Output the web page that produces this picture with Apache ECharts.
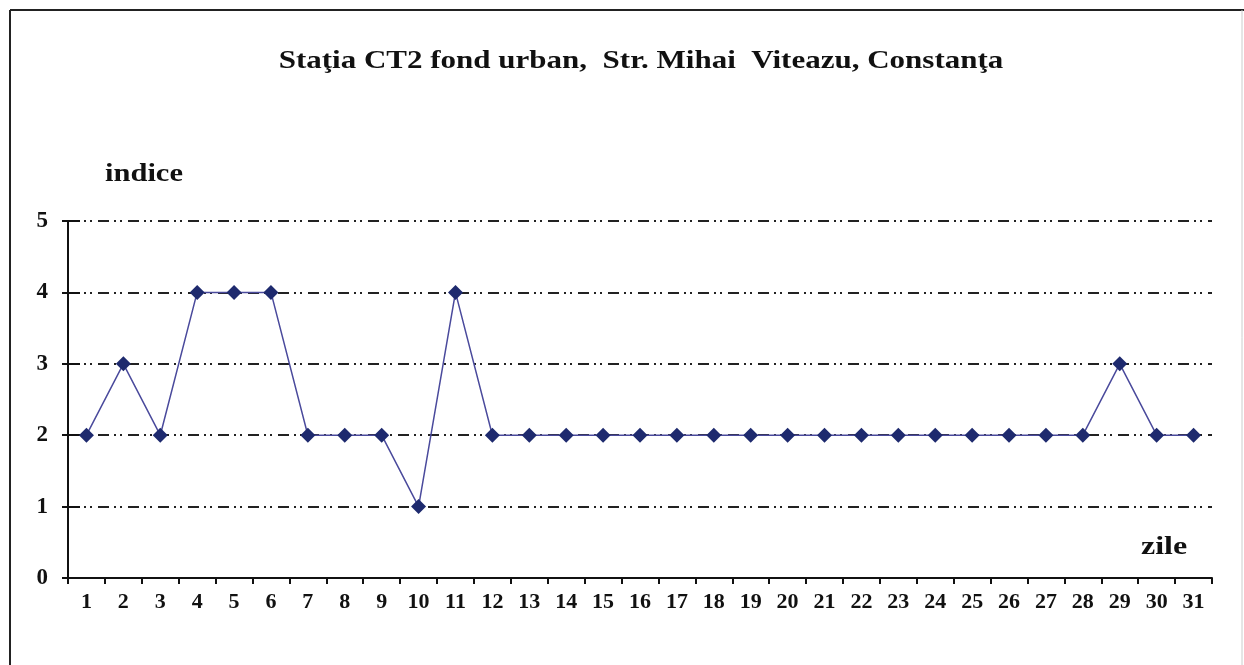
<!DOCTYPE html>
<html>
<head>
<meta charset="utf-8">
<script src="https://cdn.jsdelivr.net/npm/echarts@6/dist/echarts.min.js"></script>
<style>
html,body{margin:0;padding:0;background:#fff;}
#chart{width:1244px;height:665px;}
</style>
</head>
<body>
<div id="chart"></div>
<script>
var titleText = 'Staţia CT2 fond urban,  Str. Mihai  Viteazu, Constanţa';
var yAxisName = 'indice';
var xAxisName = 'zile';
var days = ['1','2','3','4','5','6','7','8','9','10','11','12','13','14','15','16','17','18','19','20','21','22','23','24','25','26','27','28','29','30','31'];
var indexValues = [2,3,2,4,4,4,2,2,2,1,4,2,2,2,2,2,2,2,2,2,2,2,2,2,2,2,2,2,3,2,2];

var serif = '"Liberation Serif","DejaVu Serif",serif';
var chart = echarts.init(document.getElementById('chart'));
chart.setOption({
  backgroundColor: '#ffffff',
  animation: false,
  grid: { left: 68, right: 32, top: 221, bottom: 87, containLabel: false },
  xAxis: {
    type: 'category',
    data: days,
    boundaryGap: true,
    axisLine: { show: true, lineStyle: { color: '#111', width: 2 } },
    axisTick: { show: true, alignWithLabel: false, length: 6, lineStyle: { color: '#111', width: 2 } },
    axisLabel: { margin: 13, fontFamily: serif, fontWeight: 'bold', fontSize: 22, color: '#111', interval: 0 },
    splitLine: { show: false }
  },
  yAxis: [{
    type: 'value',
    min: 0, max: 5, interval: 1,
    axisLine: { show: true, lineStyle: { color: '#111', width: 2 } },
    axisTick: { show: true, length: 6, lineStyle: { color: '#111', width: 2 } },
    axisLabel: { margin: 20, fontFamily: serif, fontWeight: 'bold', fontSize: 23, color: '#111' },
    splitLine: { show: true, lineStyle: { color: '#222', width: 2, type: [11, 5, 2, 4, 2, 6] } }
  }, {
    type: 'value',
    position: 'left',
    min: 0, max: 5, interval: 1,
    axisLine: { show: false },
    axisTick: { show: true, inside: true, length: 12, lineStyle: { color: '#111', width: 2 } },
    axisLabel: { show: false },
    splitLine: { show: false }
  }],
  graphic: [
    { type: 'line', shape: { x1: 10, y1: 10, x2: 1244, y2: 10 }, style: { stroke: '#222', lineWidth: 2 } },
    { type: 'line', shape: { x1: 10, y1: 10, x2: 10, y2: 665 }, style: { stroke: '#222', lineWidth: 2 } },
    { type: 'line', shape: { x1: 1242, y1: 10, x2: 1242, y2: 665 }, style: { stroke: '#ccc', lineWidth: 1 } },
    { type: 'text', x: 641, y: 62, scaleX: 1.24, style: { text: titleText, font: 'bold 25px ' + serif, fill: '#111', align: 'center', verticalAlign: 'middle' } },
    { type: 'text', x: 105, y: 175, scaleX: 1.22, style: { text: yAxisName, font: 'bold 25px ' + serif, fill: '#111', align: 'left', verticalAlign: 'middle' } },
    { type: 'text', x: 1141, y: 548, scaleX: 1.28, style: { text: xAxisName, font: 'bold 25px ' + serif, fill: '#111', align: 'left', verticalAlign: 'middle' } }
  ],
  series: [{
    type: 'line',
    data: indexValues,
    symbol: 'diamond',
    symbolSize: 15,
    lineStyle: { color: '#4a4a9c', width: 1.5 },
    itemStyle: { color: '#1e2a6e' }
  }]
});
</script>
</body>
</html>
